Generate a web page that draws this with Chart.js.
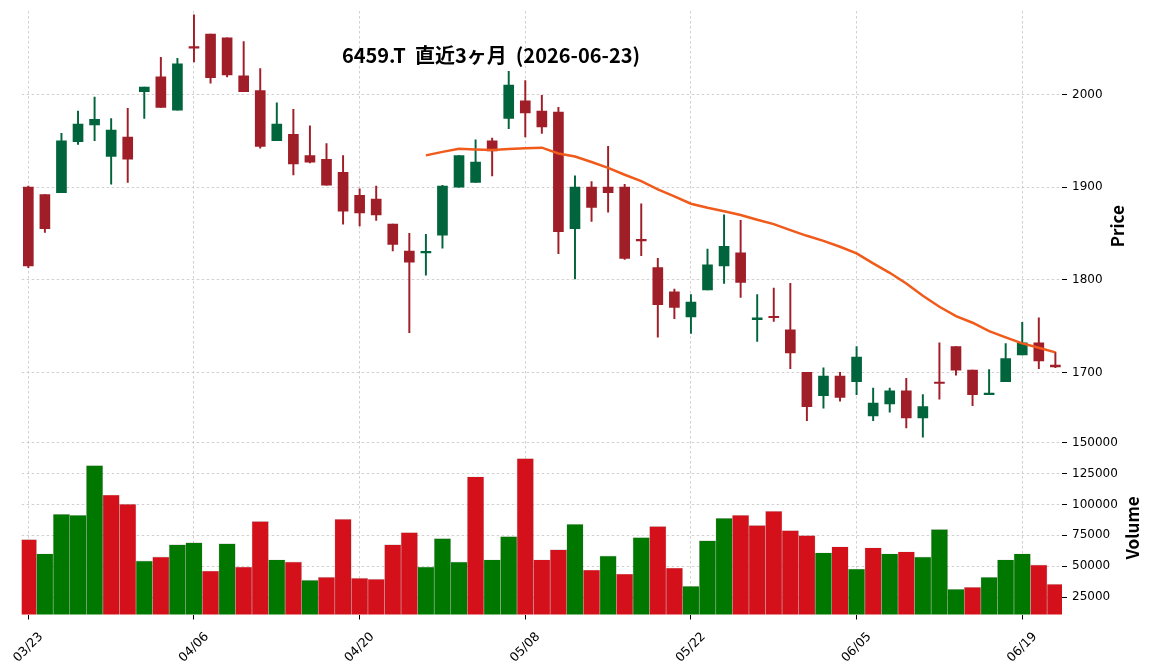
<!DOCTYPE html>
<html lang="ja">
<head>
<meta charset="UTF-8">
<title>6459.T 直近3ヶ月</title>
<script src="https://cdn.jsdelivr.net/npm/chart.js"></script>
<style>
    html, body { margin: 0; padding: 0; background: #fff; }
    .chart-container { width: 1153px; height: 670px; position: relative; }
</style>
</head>
<body>
<div class="chart-container"><canvas id="stockChart"></canvas></div>
<script>
// trading days shown on the x axis
const dates = [
    '03/23','03/24','03/25','03/26','03/27','03/30','03/31','04/01','04/02','04/03',
    '04/06','04/07','04/08','04/09','04/10','04/13','04/14','04/15','04/16','04/17',
    '04/20','04/21','04/22','04/23','04/24','04/27','04/28','04/30','05/01','05/07',
    '05/08','05/11','05/12','05/13','05/14','05/15','05/18','05/19','05/20','05/21',
    '05/22','05/25','05/26','05/27','05/28','05/29','06/01','06/02','06/03','06/04',
    '06/05','06/08','06/09','06/10','06/11','06/12','06/15','06/16','06/17','06/18',
    '06/19','06/22','06/23'
];
const tickLabels = ['03/23','04/06','04/20','05/08','05/22','06/05','06/19'];

const opens = [
    1900,1892,1894,1949,1967,1933,1954,2003,2019,1983,
    2051,2065,2061,2020,2004,1950,1957,1934,1930,1916,
    1891,1887,1860,1831,1829,1848,1900,1905,1950,1974,
    1993,1982,1981,1855,1900,1900,1900,1842.5,1813,1787,
    1760,1789,1815,1829,1757,1760,1746,1700,1675,1696,
    1690,1653,1666,1680,1651,1689,1728,1702.5,1676,1690,
    1719,1732,1708
];
const highs = [
    1901,1892,1958,1982,1997,1974,1985,2008,2040,2039,
    2086,2065,2061,2057,2028,1991,1984,1966,1947,1934,
    1898,1901,1860,1850,1849,1902,1934,1951,1953,2025,
    2015,1999,1986,1912,1906,1944,1903,1882,1823,1790,
    1784,1833,1870,1864,1784,1791,1796,1700,1705,1700,
    1728,1683,1683,1693.5,1676,1732,1728,1702.5,1703,1731,
    1754,1759,1722
];
const lows = [
    1813,1851,1894,1946,1950,1903,1905,1974,1986,1983,
    2035,2012,2019,2003,1942,1950,1913,1926,1902,1860,
    1858,1864,1831,1743,1805,1834,1900,1905,1912,1963,
    1954,1958,1828,1801,1863,1873,1822,1826,1738,1758,
    1742,1789,1796,1781,1733.5,1755,1704,1648,1661.5,1669,
    1676,1648,1657,1640,1630,1671,1697,1664,1676,1690,
    1719,1704,1705
];
const closes = [
    1815,1855,1950,1968,1973,1961.5,1930,2008,1986,2033,
    2050,2018,2021,2003,1944,1968,1925,1927,1902,1874,
    1872,1870,1838,1819,1830,1901,1934,1927,1939,2010,
    1980,1965,1852,1900,1878,1894,1823,1842,1773,1770,
    1776,1816,1836,1797,1759,1759,1721,1663,1696,1673,
    1716.5,1667,1680,1651,1663,1688,1702.5,1676,1677,1715,
    1732,1712.5,1706
];
const volumes = [
    71600,60100,92000,91200,131400,107600,100200,54300,57600,67500,
    69100,46100,68300,49400,86300,55200,53500,38800,41200,88000,
    40400,39600,67500,77300,49400,72400,53500,122400,55200,74000,
    137100,55200,63400,83900,47000,58400,43700,73200,82200,48600,
    33900,70700,88800,91200,83000,94500,78900,74800,60900,65800,
    47800,65000,60100,61700,57600,79800,31400,33000,41200,55200,
    60100,51100,35500
];
// 25-day moving average (starts at the 25th session)
const maStart = 24;
const ma25 = [
    1934.2,1938,1941.3,1940.6,1939.9,1941,1942,1942.5,1936.3,1933,
    1927,1920.8,1913.3,1906.4,1897.5,1890,1882,1877.6,1874,1869.8,
    1864.7,1860,1853.6,1847.4,1842,1835.6,1828.4,1817.6,1807.5,1796,
    1782.7,1770.8,1760.8,1753.6,1744.6,1737.8,1731.3,1726.6,1721.6
];
const priceTicks = [1700, 1800, 1900, 2000];
const volumeTicks = [25000, 50000, 75000, 100000, 125000, 150000];
const chartTitle = '6459.T  直近3ヶ月  (2026-06-23)';

const upCandle = '#00643c';
const downCandle = '#a01e28';
const upVol = '#007800';
const downVol = '#d4101a';
const maColor = '#f05a1a';
const gridColor = '#c4c4c4';

const candleColors = closes.map((c, i) => c >= opens[i] ? upCandle : downCandle);
const volColors = closes.map((c, i) => i > 0 && c > closes[i - 1] ? upVol : downVol);

const bodyData = opens.map((o, i) => ({ x: i, y: [o, closes[i]] }));
const wickData = lows.map((l, i) => ({ x: i, y: [l, highs[i]] }));
const volData = volumes.map((v, i) => ({ x: i, y: v }));
const maData = ma25.map((v, i) => ({ x: maStart + i, y: v }));

// title, rotated axis titles and the date labels (centred on their ticks)
const textPlugin = {
    id: 'panelText',
    afterDraw(chart) {
        const ctx = chart.ctx;
        ctx.save();
        ctx.fillStyle = '#000';
        ctx.textAlign = 'center';
        ctx.textBaseline = 'middle';
        ctx.font = 'bold 20px "Noto Sans CJK JP"';
        ctx.fillText(chartTitle, 491, 55);

        ctx.font = 'bold 17px "Noto Sans CJK JP"';
        const sides = [[chart.scales.y, 'Price', 56], [chart.scales.yVol, 'Volume', 71]];
        sides.forEach(([scale, text, dx]) => {
            ctx.save();
            ctx.translate(scale.left + dx, (scale.top + scale.bottom) / 2);
            ctx.rotate(-Math.PI / 2);
            ctx.fillText(text, 0, 0);
            ctx.restore();
        });

        const xs = chart.scales.x;
        ctx.font = '12.5px "DejaVu Sans"';
        xs.ticks.forEach(t => {
            ctx.save();
            ctx.translate(xs.getPixelForValue(t.value), xs.top + 33);
            ctx.rotate(-Math.PI / 4);
            ctx.fillText(dates[t.value], 0, 0);
            ctx.restore();
        });
        ctx.restore();
    }
};

const tickFont = { family: 'DejaVu Sans', size: 12 };

function yAxis(ticksList, min, max, weight) {
    return {
        type: 'linear',
        position: 'right',
        stack: 'panes',
        stackWeight: weight,
        min: min,
        max: max,
        afterBuildTicks: scale => { scale.ticks = ticksList.map(v => ({ value: v })); },
        afterFit: scale => { scale.width = 91; scale.paddingTop = 0; scale.paddingBottom = 0; },
        ticks: { font: tickFont, color: '#000', padding: 5, callback: v => String(v) },
        grid: { color: gridColor, lineWidth: 0.8, tickColor: '#000', tickLength: 5, tickWidth: 1, tickBorderDash: [1, 0] },
        border: { display: false, dash: [2.5, 2.5] }
    };
}

new Chart(document.getElementById('stockChart'), {
    type: 'bar',
    data: {
        datasets: [
            {
                type: 'line', data: maData, yAxisID: 'y', order: 0,
                borderColor: maColor, borderWidth: 2.5, pointRadius: 0, tension: 0
            },
            {
                data: bodyData, yAxisID: 'y', order: 1, grouped: false,
                backgroundColor: candleColors, barThickness: 10, minBarLength: 1.5
            },
            {
                data: wickData, yAxisID: 'y', order: 2, grouped: false,
                backgroundColor: candleColors, barThickness: 1.3
            },
            {
                data: volData, yAxisID: 'yVol', order: 3, grouped: false,
                backgroundColor: volColors, borderColor: 'rgba(0,0,0,0.18)', borderWidth: 0.6,
                barPercentage: 1, categoryPercentage: 1
            }
        ]
    },
    options: {
        responsive: true,
        maintainAspectRatio: false,
        animation: false,
        devicePixelRatio: 1,
        layout: { padding: { top: 11, left: 21.7, right: 0, bottom: 0 } },
        plugins: { legend: { display: false }, tooltip: { enabled: false } },
        scales: {
            x: {
                type: 'linear',
                position: 'bottom',
                offset: false,
                min: -0.4,
                max: 62.4,
                afterBuildTicks: scale => {
                    scale.ticks = tickLabels.map(l => ({ value: dates.indexOf(l) }));
                },
                afterFit: scale => { scale.height = 55.5; scale.paddingLeft = 0; scale.paddingRight = 0; },
                ticks: { display: false },
                grid: { offset: false, color: gridColor, lineWidth: 0.8, tickColor: '#000', tickLength: 5, tickWidth: 1, tickBorderDash: [1, 0] },
                border: { display: false, dash: [2.5, 2.5] }
            },
            y: yAxis(priceTicks, 1625.6, 2090, 430),
            yVol: yAxis(volumeTicks, 11000, 151000, 173)
        }
    },
    plugins: [textPlugin]
});
</script>
</body>
</html>
